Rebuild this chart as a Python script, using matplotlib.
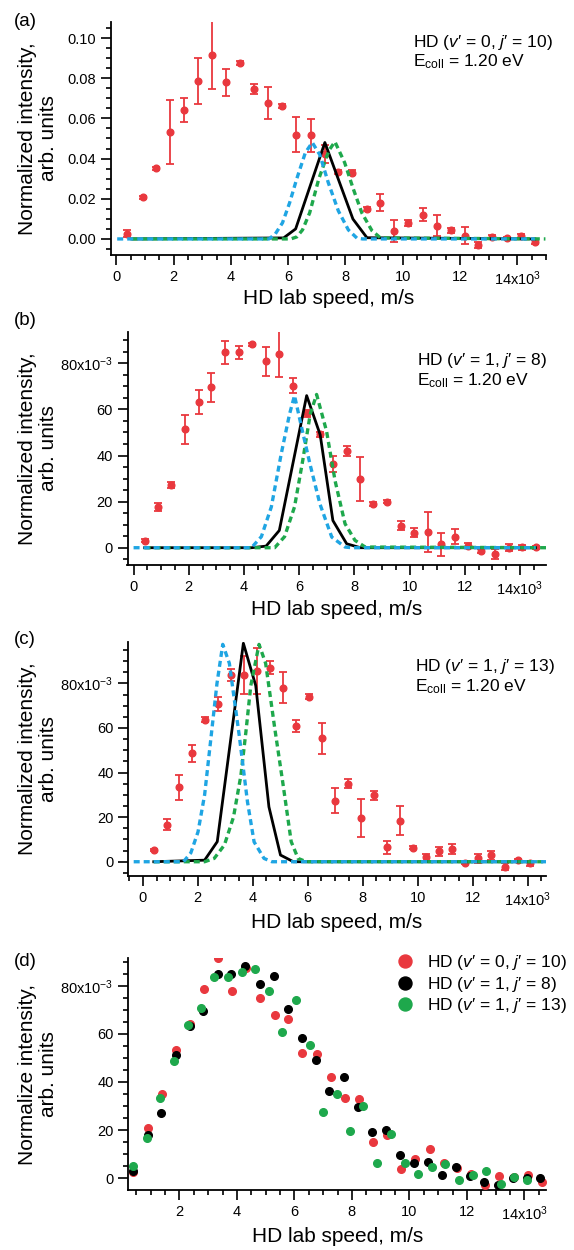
import matplotlib
matplotlib.use("Agg")
import matplotlib.pyplot as plt
import matplotlib.transforms as mtransforms
from matplotlib.ticker import FixedLocator, FixedFormatter, MultipleLocator
import numpy as np

plt.rcParams['font.family'] = ['Liberation Sans', 'DejaVu Sans']
plt.rcParams['mathtext.fontset'] = 'custom'
plt.rcParams['mathtext.rm'] = 'Liberation Sans'
plt.rcParams['mathtext.it'] = 'Liberation Sans:italic'
plt.rcParams['mathtext.bf'] = 'Liberation Sans:bold'

# ---------------- data (speed in 10^3 m/s, intensity in 10^-3) ----------------
# panel (a): HD (v'=0, j'=10)
speed_a = [0.38, 0.92, 1.40, 1.88, 2.36, 2.85, 3.35, 3.84, 4.33, 4.81, 5.31, 5.79, 6.28, 6.78, 7.28,
           7.75, 8.24, 8.75, 9.22, 9.71, 10.19, 10.70, 11.19, 11.67, 12.16, 12.64, 13.13, 13.63, 14.13, 14.61]
inten_a = [2.7, 20.8, 35.1, 53.1, 64.1, 78.7, 91.7, 78.0, 87.5, 74.7, 67.7, 66.2, 51.9, 51.6, 42.1,
           33.3, 32.9, 15.0, 18.0, 3.8, 8.0, 12.1, 6.5, 4.2, 1.7, -2.8, 1.0, 0.5, 1.5, -1.7]
err_a = [1.5, 0.8, 0.8, 16.0, 6.1, 11.6, 17.1, 6.8, 1.0, 2.5, 7.9, 0.8, 8.7, 8.1, 4.5,
         1.0, 1.2, 1.0, 4.2, 5.4, 1.5, 3.2, 5.2, 1.0, 4.2, 1.5, 1.0, 0.6, 0.8, 1.0]
black_x_a = [0.54, 5.84, 6.26, 7.28, 8.26, 8.75, 14.61]
black_y_a = [0, 0.5, 5.0, 48.0, 9.9, 0.6, 0]
blue_x_a = [0.03, 5.33, 5.55, 5.80, 6.05, 6.30, 6.60, 6.84, 7.10, 7.40, 7.75, 8.10, 8.40, 8.60, 14.61]
blue_y_a = [0, 0, 2.5, 8, 18, 30, 43, 48, 42, 28, 14, 4.5, 0.4, 0, 0]
green_x_a = [0.54, 6.09, 6.30, 6.50, 6.75, 7.07, 7.42, 7.63, 7.97, 8.27, 8.57, 8.92, 9.22, 14.98]
green_y_a = [0, 0, 1, 4.5, 13, 30, 44, 48.4, 38, 25, 13, 4.2, 0.5, 0]

# panel (b): HD (v'=1, j'=8)
speed_b = [0.40, 0.89, 1.37, 1.87, 2.36, 2.82, 3.33, 3.81, 4.28, 4.80, 5.28, 5.76, 6.27, 6.76, 7.21,
           7.72, 8.22, 8.69, 9.18, 9.68, 10.17, 10.65, 11.14, 11.63, 12.10, 12.60, 13.09, 13.59, 14.08, 14.56]
inten_b = [3.0, 17.8, 27.2, 51.4, 63.2, 69.6, 84.8, 84.8, 88.3, 80.8, 84.1, 70.3, 58.3, 49.2, 36.2,
           42.1, 29.8, 19.0, 20.0, 9.6, 6.5, 6.7, 1.4, 4.8, 0.9, -1.4, -2.7, 0.0, 0.1, 0.1]
err_b = [0.6, 1.8, 1.5, 6.3, 5.3, 6.2, 5.1, 2.8, 0.7, 6.2, 10.0, 3.3, 1.5, 1.2, 3.4,
         2.2, 9.6, 0.8, 0.8, 2.0, 2.0, 8.7, 5.0, 3.2, 1.0, 1.0, 2.0, 1.5, 1.0, 0.5]
black_x_b = [0.40, 4.28, 4.80, 5.28, 6.27, 6.76, 7.22, 7.72, 8.22, 14.56]
black_y_b = [0, 0, 0.7, 7.5, 66, 49, 11.8, 1.7, 0, 0]
blue_x_b = [0.0, 4.27, 4.63, 4.99, 5.35, 5.65, 5.83, 6.09, 6.39, 6.75, 7.18, 7.66, 7.90, 14.56]
blue_y_b = [0, 0, 4.8, 17.7, 40.8, 58, 66, 52, 36.3, 19, 4.6, 0.3, 0, 0]
green_x_b = [0.40, 5.11, 5.47, 5.83, 6.13, 6.40, 6.63, 6.99, 7.30, 7.66, 8.02, 8.39, 14.95]
green_y_b = [0, 0, 4.8, 17.7, 38, 58, 66.5, 50.6, 29, 10.4, 3.2, 0.3, 0]

# panel (c): HD (v'=1, j'=13)
speed_c = [0.40, 0.87, 1.33, 1.80, 2.28, 2.75, 3.21, 3.69, 4.17, 4.64, 5.11, 5.57, 6.04, 6.53, 6.99,
           7.47, 7.93, 8.40, 8.87, 9.37, 9.84, 10.31, 10.77, 11.24, 11.73, 12.20, 12.67, 13.17, 13.64, 14.09]
inten_c = [5.1, 16.7, 33.3, 48.6, 63.8, 70.6, 83.6, 83.7, 85.5, 87.1, 78.0, 60.8, 74.1, 55.3, 27.4,
           35.0, 19.7, 29.9, 6.4, 18.4, 6.3, 1.9, 4.6, 5.7, -0.7, 1.5, 2.8, -2.2, 0.7, -0.7]
err_c = [0.5, 2.5, 5.8, 3.7, 1.0, 3.2, 2.7, 8.5, 10.3, 3.1, 6.9, 2.8, 1.0, 7.1, 5.6,
         2.0, 8.4, 2.0, 3.0, 6.4, 0.7, 1.5, 2.2, 2.2, 0.5, 2.0, 2.0, 1.5, 0.7, 1.0]
black_x_c = [0.40, 2.25, 2.71, 3.66, 4.11, 4.59, 5.01, 5.48, 14.09]
black_y_c = [0, 0.7, 9.0, 98.0, 79, 24.6, 3.0, 0, 0]
blue_x_c = [-0.33, 1.48, 1.75, 2.01, 2.25, 2.49, 2.70, 2.91, 3.15, 3.51, 3.81, 4.05, 4.41, 4.70, 14.67]
blue_y_c = [0, 0, 4, 13.4, 30, 56.6, 80, 97.5, 89, 56.6, 26.8, 8.9, 1.5, 0, 0]
green_x_c = [0.40, 2.25, 2.60, 2.97, 3.30, 3.57, 3.75, 3.93, 4.23, 4.47, 4.80, 5.10, 5.40, 5.65, 5.95, 14.67]
green_y_c = [0, 0, 1.5, 7.5, 20, 38.7, 58, 79, 97.5, 89, 60, 35, 9, 1.5, 0, 0]

labels_a = r'HD ($\mathit{v}$′ = 0, $\mathit{j}$′ = 10)'
labels_b = r'HD ($\mathit{v}$′ = 1, $\mathit{j}$′ = 8)'
labels_c = r'HD ($\mathit{v}$′ = 1, $\mathit{j}$′ = 13)'
ecoll_text = r'E$_{\mathrm{coll}}$ = 1.20 eV'

x_ticks = [0, 2, 4, 6, 8, 10, 12, 14]
x_ticklabels = ['0', '2', '4', '6', '8', '10', '12', r'14x10$^{3}$']
y_ticks_a = [0, 20, 40, 60, 80, 100]
y_ticklabels_a = ['0.00', '0.02', '0.04', '0.06', '0.08', '0.10']
y_ticks = [0, 20, 40, 60, 80]
y_ticklabels = ['0', '20', '40', '60', r'80x10$^{-3}$']

# ---------------- style ----------------
RED = '#E9383E'
BLUE = '#1FA5E3'
GREEN = '#1EA84C'
BLACK = '#000000'
W, H = 574, 1250

fig = plt.figure(figsize=(W / 100, H / 100), dpi=100)


def add_axes(left, top, right, bottom):
    return fig.add_axes([left / W, 1 - bottom / H, (right - left) / W, (bottom - top) / H])


def style_axes(ax, xlim, ylim, xt, xtl, yt, ytl, xminor, yminor, ylabel):
    ax.set_xlim(*xlim)
    ax.set_ylim(*ylim)
    for s in ['top', 'right']:
        ax.spines[s].set_visible(False)
    for s in ['left', 'bottom']:
        ax.spines[s].set_linewidth(1.3)
    ax.xaxis.set_major_locator(FixedLocator(xt))
    ax.xaxis.set_major_formatter(FixedFormatter(xtl))
    ax.yaxis.set_major_locator(FixedLocator(yt))
    ax.yaxis.set_major_formatter(FixedFormatter(ytl))
    ax.xaxis.set_minor_locator(MultipleLocator(xminor))
    ax.yaxis.set_minor_locator(MultipleLocator(yminor))
    ax.tick_params(which='major', direction='out', length=7, width=1.2, labelsize=10.5, pad=3.5)
    ax.tick_params(which='minor', direction='out', length=3.5, width=1.2)
    ax.set_ylabel(ylabel, fontsize=15, linespacing=1.1)
    ax.yaxis.set_label_coords(58 / W, 0.5,
                              transform=mtransforms.blended_transform_factory(fig.transFigure, ax.transAxes))
    ax.set_xlabel('HD lab speed, m/s', fontsize=15)


def xlabel_at(ax, top_px):
    ax.xaxis.set_label_coords(0.5, 1 - top_px / H,
                              transform=mtransforms.blended_transform_factory(ax.transAxes, fig.transFigure))


dash = (0, (1.8, 1.2))


def draw_panel(ax, sx, iy, ie, bx, by, gx, gy, kx, ky):
    ax.errorbar(sx, iy, yerr=ie, fmt='o', ms=4.8, color=RED, ecolor=RED,
                elinewidth=1.3, capsize=3, capthick=1.3, zorder=2)
    ax.plot(kx, ky, color=BLACK, lw=2.0, zorder=3)
    ax.plot(gx, gy, color=GREEN, lw=2.4, linestyle=dash, zorder=4)
    ax.plot(bx, by, color=BLUE, lw=2.4, linestyle=dash, zorder=5)


# (a)
ax_a = add_axes(110.6, 22, 546, 255)
draw_panel(ax_a, speed_a, inten_a, err_a, blue_x_a, blue_y_a, green_x_a, green_y_a, black_x_a, black_y_a)
style_axes(ax_a, (-0.2, 15.0), (-8, 108), x_ticks, x_ticklabels, y_ticks_a, y_ticklabels_a, 0.5, 5,
           'Normalized intensity,\narb. units')
xlabel_at(ax_a, 289)

# (b)
ax_b = add_axes(127.5, 332, 546, 565)
draw_panel(ax_b, speed_b, inten_b, err_b, blue_x_b, blue_y_b, green_x_b, green_y_b, black_x_b, black_y_b)
style_axes(ax_b, (-0.22, 14.94), (-7.5, 93.6), x_ticks, x_ticklabels, y_ticks, y_ticklabels, 0.5, 5,
           'Normalized intensity,\narb. units')
xlabel_at(ax_b, 600)

# (c)
ax_c = add_axes(128.2, 641.7, 546, 876)
draw_panel(ax_c, speed_c, inten_c, err_c, blue_x_c, blue_y_c, green_x_c, green_y_c, black_x_c, black_y_c)
style_axes(ax_c, (-0.53, 14.67), (-6.4, 98.7), x_ticks, x_ticklabels, y_ticks, y_ticklabels, 0.5, 5,
           'Normalized intensity,\narb. units')
xlabel_at(ax_c, 913)

# (d)
ax_d = add_axes(128.2, 958.3, 546.5, 1190)
h1, = ax_d.plot(speed_a, inten_a, 'o', ms=5.5, color=RED, zorder=3)
h2, = ax_d.plot(speed_b, inten_b, 'o', ms=5.5, color=BLACK, zorder=3)
h3, = ax_d.plot(speed_c, inten_c, 'o', ms=5.5, color=GREEN, zorder=3)
style_axes(ax_d, (0.216, 14.77), (-4.9, 91.4), x_ticks[1:], x_ticklabels[1:], y_ticks, y_ticklabels, 0.5, 5,
           'Normalize intensity,\narb. units')
xlabel_at(ax_d, 1227)
fig.legend([h1, h2, h3], [labels_a, labels_b, labels_c], loc='upper left',
           bbox_to_anchor=(396 / W, 1 - 953 / H), frameon=False, fontsize=12.5,
           markerscale=1.7, handlelength=1.0, handletextpad=0.8, labelspacing=0.15,
           borderpad=0, borderaxespad=0)

# annotations
fig.text(413 / W, 1 - 42 / H, labels_a, fontsize=12.5, va='center', ha='left')
fig.text(413 / W, 1 - 62 / H, ecoll_text, fontsize=12.5, va='center', ha='left')
fig.text(417 / W, 1 - 361 / H, labels_b, fontsize=12.5, va='center', ha='left')
fig.text(417 / W, 1 - 381 / H, ecoll_text, fontsize=12.5, va='center', ha='left')
fig.text(415 / W, 1 - 667 / H, labels_c, fontsize=12.5, va='center', ha='left')
fig.text(415 / W, 1 - 687 / H, ecoll_text, fontsize=12.5, va='center', ha='left')

for lab, ypx in [('(a)', 22), ('(b)', 321), ('(c)', 640), ('(d)', 961)]:
    fig.text(14 / W, 1 - ypx / H, lab, fontsize=13.5, va='center', ha='left')

fig.savefig('out.png', dpi=100)
